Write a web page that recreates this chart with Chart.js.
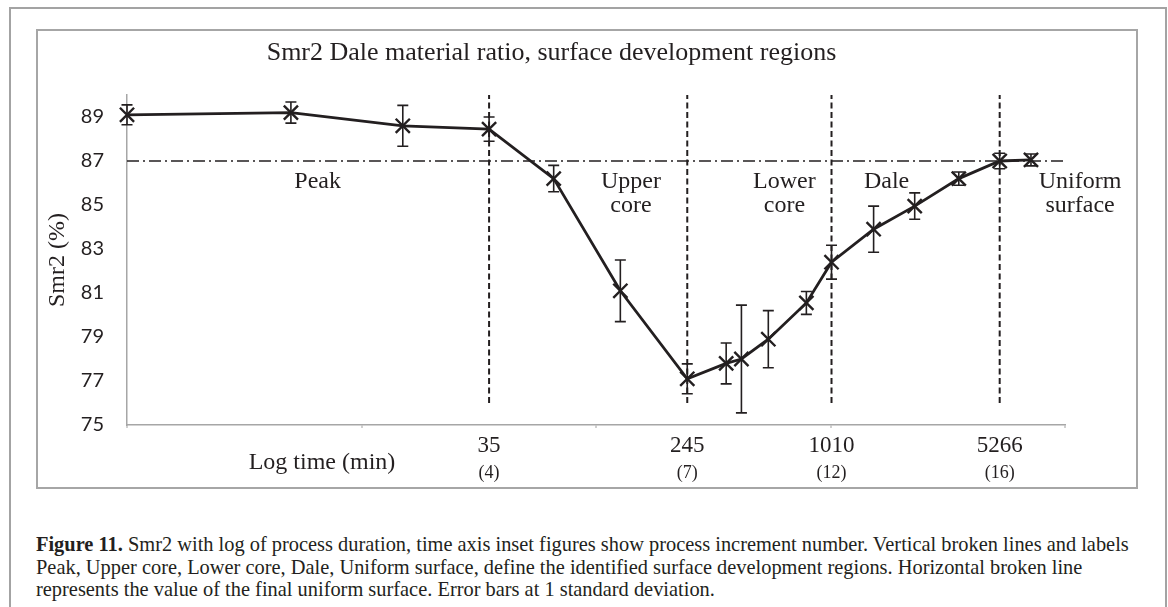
<!DOCTYPE html>
<html>
<head>
<meta charset="utf-8">
<script src="https://cdn.jsdelivr.net/npm/chart.js@4.4.0/dist/chart.umd.min.js"></script>
<style>
  body { margin: 0; background: #fff; width: 1168px; height: 607px; overflow: hidden; position: relative; }
  .outer { position: absolute; left: 9px; top: 7px; width: 1158px; height: 660px; border: 2px solid #a3a3a3; box-sizing: border-box; }
  .inner { position: absolute; left: 36px; top: 29px; width: 1102px; height: 460px; border: 2px solid #a6a6a6; box-sizing: border-box; }
  #chart { position: absolute; left: 38px; top: 31px; }
  .caption { position: absolute; left: 36px; top: 533px; font-family: "Liberation Serif", serif; font-size: 20.4px; line-height: 22.7px; color: #231f20; white-space: nowrap; }
  .caption b { font-weight: bold; }
</style>
</head>
<body>
<div class="outer"></div>
<div class="inner"></div>
<canvas id="chart" width="1098" height="456"></canvas>
<div class="caption">
  <b>Figure 11.</b> Smr2 with log of process duration, time axis inset figures show process increment number. Vertical broken lines and labels<br>
  Peak, Upper core, Lower core, Dale, Uniform surface, define the identified surface development regions. Horizontal broken line<br>
  represents the value of the final uniform surface. Error bars at 1 standard deviation.
</div>
<script>
const times = [1, 5, 15, 35, 66, 127, 245, 359, 417, 543, 789, 1010, 1527, 2286, 3524, 5266, 7160];
const smr2 = [89.1, 89.2, 88.6, 88.45, 86.2, 81.1, 77.1, 77.8, 78.0, 78.9, 80.55, 82.4, 83.9, 84.95, 86.2, 87.0, 87.05];
const smr2Sd = [0.45, 0.48, 0.93, 0.55, 0.6, 1.4, 0.68, 0.93, 2.45, 1.3, 0.52, 0.77, 1.05, 0.6, 0.3, 0.35, 0.27];

const regionBounds = [35, 245, 1010, 5266];
const incrementLabels = ["(4)", "(7)", "(12)", "(16)"];
const regionNames = [["Peak"], ["Upper", "core"], ["Lower", "core"], ["Dale"], ["Uniform", "surface"]];
const uniformLevel = 87;

const yTicks = [75, 77, 79, 81, 83, 85, 87, 89];
const decadeTicks = [1, 10, 100, 1000, 10000];

const INK = "#231f20";
const SERIF = "'Liberation Serif', 'Times New Roman', serif";

// where the region names sit (log time, Smr2)
const regionAnchorX = [6.5, 141, 636, 1735, 11600];
const regionAnchorY = 86.05;

const canvas = document.querySelector("#chart");
const ctx = canvas.getContext("2d");

const mainData = times.map((t, i) => ({ x: t, y: smr2[i] }));

const boundLines = regionBounds.map((b) => ({
  type: "line",
  data: [{ x: b, y: 76 }, { x: b, y: 90 }],
  borderColor: INK,
  borderWidth: 2,
  borderDash: [6, 3.5],
  pointRadius: 0,
  clip: false,
}));

const errorBars = {
  id: "errorBars",
  afterDatasetsDraw(chart) {
    const xs = chart.scales.x;
    const ys = chart.scales.y;
    const c = chart.ctx;
    c.save();
    c.strokeStyle = INK;
    c.lineWidth = 1.6;
    for (let i = 0; i < times.length; i++) {
      const px = xs.getPixelForValue(times[i]);
      const top = ys.getPixelForValue(smr2[i] + smr2Sd[i]);
      const bot = ys.getPixelForValue(smr2[i] - smr2Sd[i]);
      c.beginPath();
      c.moveTo(px, top);
      c.lineTo(px, bot);
      c.moveTo(px - 5.5, top);
      c.lineTo(px + 5.5, top);
      c.moveTo(px - 5.5, bot);
      c.lineTo(px + 5.5, bot);
      c.stroke();
    }
    c.restore();
  },
};

const textLabels = {
  id: "textLabels",
  afterDraw(chart) {
    const xs = chart.scales.x;
    const ys = chart.scales.y;
    const c = chart.ctx;
    c.save();
    c.fillStyle = INK;
    c.textAlign = "center";
    c.textBaseline = "middle";
    c.font = "24px " + SERIF;
    regionNames.forEach((lines, i) => {
      const px = xs.getPixelForValue(regionAnchorX[i]);
      const py = ys.getPixelForValue(regionAnchorY);
      lines.forEach((txt, j) => c.fillText(txt, px, py + j * 24));
    });
    c.fillText("Log time (min)", chart.chartArea.left + 195, chart.chartArea.bottom + 38);
    c.restore();
  },
};

const logAxis = (extra) =>
  Object.assign(
    {
      type: "logarithmic",
      position: "bottom",
      min: 1,
      max: 10000,
      grid: { display: false, drawTicks: false },
      border: { display: false },
    },
    extra
  );

myChart = new Chart(ctx, {
  type: "line",
  data: {
    datasets: [
      {
        label: "Smr2",
        data: mainData,
        borderColor: INK,
        backgroundColor: INK,
        borderWidth: 2.8,
        pointStyle: "crossRot",
        pointRadius: 10,
        pointBorderWidth: 2.4,
        pointBorderColor: INK,
        tension: 0,
        clip: false,
      },
      {
        label: "Uniform",
        data: [{ x: 1, y: uniformLevel }, { x: 10000, y: uniformLevel }],
        borderColor: INK,
        borderWidth: 1.5,
        borderDash: [12, 4, 2, 4],
        pointRadius: 0,
      },
      ...boundLines,
    ],
  },
  options: {
    responsive: false,
    animation: false,
    layout: { padding: { left: 0, right: 71, top: 0, bottom: 0 } },
    plugins: {
      legend: { display: false },
      tooltip: { enabled: false },
      title: {
        display: true,
        text: "Smr2 Dale material ratio, surface development regions",
        color: INK,
        font: { family: SERIF, size: 26, weight: "normal" },
        padding: { top: 7, bottom: 25.8 },
      },
    },
    scales: {
      x: logAxis({
        weight: 0,
        afterBuildTicks: (axis) => {
          axis.ticks = decadeTicks.map((v) => ({ value: v }));
        },
        ticks: { display: false },
        grid: { display: true, drawOnChartArea: false, drawTicks: true, tickLength: 3, color: "#d0d0d0", lineWidth: 2 },
        border: { display: true, color: "#a6a6a6", width: 1.5 },
        afterFit: (axis) => {
          axis.height = 9;
        },
      }),
      xTime: logAxis({
        weight: 1,
        afterBuildTicks: (axis) => {
          axis.ticks = regionBounds.map((v) => ({ value: v }));
        },
        ticks: {
          autoSkip: false,
          maxRotation: 0,
          padding: 0,
          color: INK,
          font: { family: SERIF, size: 23, lineHeight: 1 },
          callback: (v, i) => String(regionBounds[i]),
        },
        afterFit: (axis) => {
          axis.height = 30;
        },
      }),
      xInc: logAxis({
        weight: 2,
        afterBuildTicks: (axis) => {
          axis.ticks = regionBounds.map((v) => ({ value: v }));
        },
        ticks: {
          autoSkip: false,
          maxRotation: 0,
          padding: 0,
          color: INK,
          font: { family: SERIF, size: 18, lineHeight: 1 },
          callback: (v, i) => incrementLabels[i],
        },
        afterFit: (axis) => {
          axis.height = 23;
        },
      }),
      y: {
        type: "linear",
        min: 75,
        max: 90,
        afterBuildTicks: (axis) => {
          axis.ticks = yTicks.map((v) => ({ value: v }));
        },
        grid: { display: false, drawTicks: false },
        border: { display: true, color: "#a6a6a6", width: 1.5 },
        ticks: {
          padding: 23,
          color: INK,
          font: { family: "Lato, 'Open Sans', sans-serif", size: 20 },
        },
        title: {
          display: true,
          text: "Smr2 (%)",
          color: INK,
          font: { family: SERIF, size: 24 },
          padding: { top: 5, bottom: 0 },
        },
        afterFit: (axis) => {
          axis.width = 89;
        },
      },
    },
  },
  plugins: [errorBars, textLabels],
});
</script>
</body>
</html>
